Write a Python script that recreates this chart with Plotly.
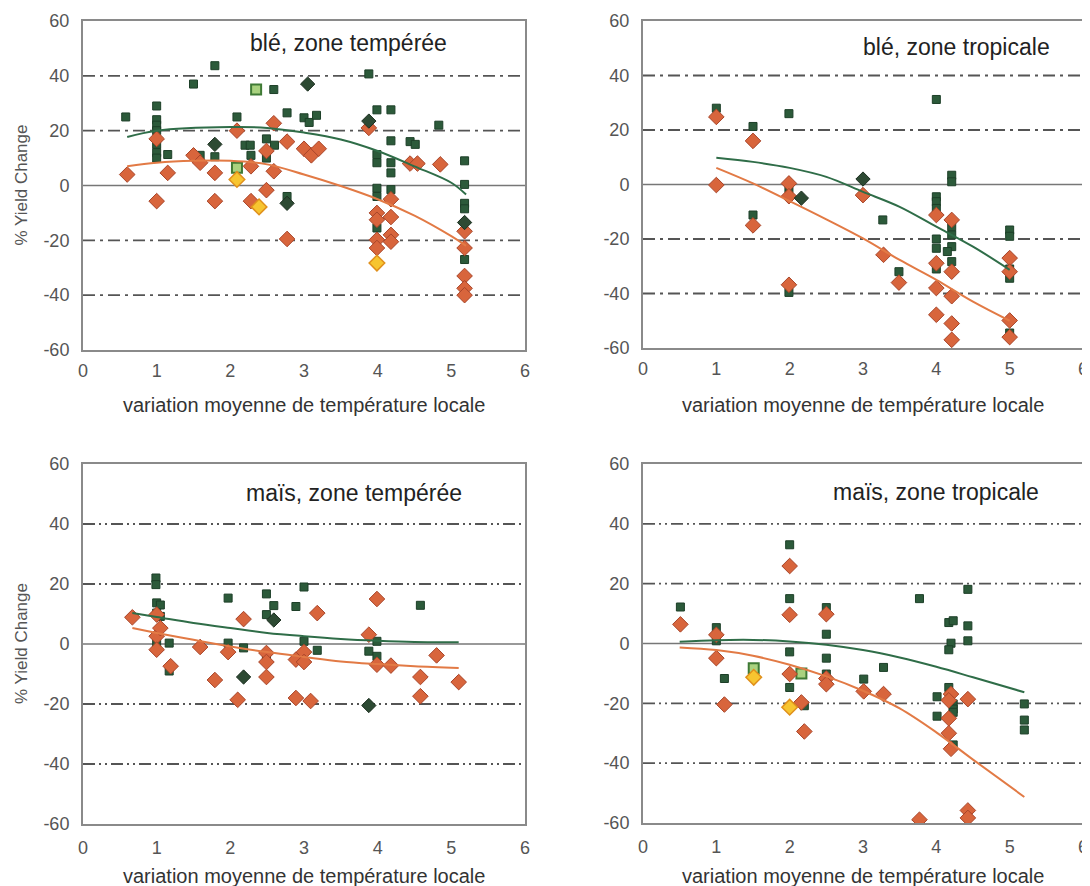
import plotly.graph_objects as go

# ---------------- data ----------------
# Panel 1: blé, zone tempérée
p1_sq_x = [0.58, 1.0, 1.0, 1.0, 1.0, 1.0, 1.0, 1.0, 1.15, 1.5, 1.59, 1.79, 1.79, 2.09, 2.59, 2.2, 2.27, 2.28,
           2.49, 2.49, 2.6, 2.77, 2.77, 3.0, 3.07, 3.17, 3.88, 3.99, 4.18, 3.99, 3.99, 3.99, 3.99, 3.99,
           4.18, 4.18, 4.18, 4.18, 4.44, 4.51, 4.83, 5.18, 5.18, 5.18, 5.18, 5.18]
p1_sq_y = [25, 29, 24, 22, 20, 15, 12, 10, 11.3, 37, 11, 43.7, 10.5, 25, 35, 14.7, 14.7, 11,
           17, 10, 14.7, 26.5, -4, 24.7, 23, 25.6, 40.7, 27.6, 27.6, 11.3, 8.3, -1, -4, -15.5,
           16.3, 8.3, 4.6, -1.5, 16, 15, 22, 9, 0.4, -6.5, -8.5, -27]
p1_di_x = [0.6, 1.0, 1.0, 1.15, 1.5, 1.59, 1.79, 1.79, 2.09, 2.28, 2.28, 2.49, 2.49, 2.59, 2.59, 2.77,
           2.77, 3.0, 3.1, 3.2, 3.88, 3.99, 3.99, 3.99, 3.99, 4.18, 4.18, 4.18, 4.18, 4.44, 4.54, 4.85,
           5.18, 5.18, 5.18, 5.18, 5.18]
p1_di_y = [4, 17, -5.7, 4.6, 11, 8.3, 4.6, -5.7, 20, 7, -5.7, 12.6, -1.7, 22.7, 5.2, 16,
           -19.5, 13.4, 11, 13.4, 21, -10, -12.5, -19.8, -22.8, -5, -11.5, -18, -20.5, 8, 8, 7.7,
           -16.7, -22.8, -33, -37.5, -40]
p1_dk_x = [1.79, 2.77, 3.05, 3.88, 5.18]
p1_dk_y = [15, -6.5, 37, 23.5, -13.5]
p1_ye_x = [2.09, 2.39, 3.99]
p1_ye_y = [2.2, -7.8, -28.3]
p1_lg_x = [2.09, 2.35]
p1_lg_y = [6.5, 35]
p1_fg_x = [0.6, 1.0, 2.0, 2.5, 3.0, 3.5, 4.0, 4.5, 5.0, 5.2]
p1_fg_y = [17.7, 20, 21.3, 21, 19.3, 16.8, 12.6, 7, 1, -3.3]
p1_fo_x = [0.6, 1.0, 1.5, 2.0, 2.5, 3.0, 3.5, 4.0, 4.5, 5.0, 5.2]
p1_fo_y = [7, 8.3, 9, 9, 7.7, 4, -0.2, -5, -11, -18.5, -22]

# Panel 2: blé, zone tropicale
p2_sq_x = [1.0, 1.5, 1.5, 1.99, 1.99, 1.99, 3.27, 3.49, 4.0, 4.0, 4.0, 4.0, 4.0, 4.0, 4.0,
           4.21, 4.21, 4.21, 4.21, 4.21, 4.21, 4.15, 5.0, 5.0, 5.0, 5.0, 5.0]
p2_sq_y = [28, 21.3, -11.2, 26, -1.5, -39.6, -13, -32, 31.2, -4.5, -6.3, -8.8, -20, -23.4, -31,
           3.4, 1, -15.5, -18.5, -22.8, -28.3, -24.6, -16.7, -19, -31, -34.4, -54.5]
p2_di_x = [1.0, 1.0, 1.5, 1.5, 1.99, 1.99, 1.99, 3.0, 3.28, 3.49, 4.0, 4.0, 4.0, 4.0,
           4.21, 4.21, 4.21, 4.21, 4.21, 5.0, 5.0, 5.0, 5.0]
p2_di_y = [24.8, -0.2, 16, -15, 0.4, -4.3, -36.8, -3.9, -25.8, -36, -11.2, -28.9, -38, -47.8,
           -13, -32, -41, -51, -57, -27, -32, -49.9, -56]
p2_dk_x = [2.16, 3.0]
p2_dk_y = [-5, 2]
p2_fg_x = [1.0, 1.5, 2.0, 2.5, 3.0, 3.5, 4.0, 4.5, 5.0]
p2_fg_y = [9.8, 8.3, 6.1, 2.8, -2.7, -8.2, -15.5, -22.8, -31.3]
p2_fo_x = [1.0, 1.5, 2.0, 2.5, 3.0, 3.5, 4.0, 4.5, 5.0]
p2_fo_y = [6.1, 0.4, -6.1, -12.8, -19.8, -27.7, -35, -43, -50]

# Panel 3: maïs, zone tempérée
p3_sq_x = [0.99, 0.99, 1.0, 1.05, 1.0, 1.05, 1.0, 1.17, 1.17, 1.97, 1.97, 2.18, 2.49, 2.49, 2.49,
           2.59, 2.89, 3.0, 3.0, 3.18, 3.88, 3.99, 3.99, 4.58]
p3_sq_y = [22, 19.8, 13.7, 13, 10.3, 9.2, 0.3, 0.3, -9, 15.3, 0.3, -1.3, 16.7, 9.8, -5.2,
           12.8, 12.5, 19, 0.9, -2.1, -2.4, 0.9, -4.1, 12.9]
p3_di_x = [0.67, 1.0, 1.0, 1.0, 1.05, 1.19, 1.59, 1.79, 1.97, 2.1, 2.18, 2.49, 2.49, 2.49, 2.89,
           2.89, 3.0, 3.0, 3.09, 3.18, 3.88, 3.99, 3.99, 4.18, 4.58, 4.58, 4.8, 5.1]
p3_di_y = [8.9, 9.8, 2.6, -1.9, 5.3, -7.4, -1, -12, -2.7, -18.6, 8.3, -3, -6, -11, -5.2,
           -18, -2.7, -6, -19, 10.3, 3.1, 15, -6.9, -7.2, -11, -17.4, -3.8, -12.7]
p3_dk_x = [2.18, 2.59, 3.88]
p3_dk_y = [-11, 8, -20.5]
p3_fg_x = [0.67, 1.0, 1.5, 2.0, 2.5, 3.0, 3.5, 4.0, 4.5, 5.1]
p3_fg_y = [10.3, 9, 7, 5.3, 3.7, 2.6, 1.7, 1.1, 0.7, 0.6]
p3_fo_x = [0.67, 1.0, 1.5, 2.0, 2.5, 3.0, 3.5, 4.0, 4.5, 5.1]
p3_fo_y = [5.3, 3.7, 1.4, -0.8, -2.7, -4.3, -5.8, -6.7, -7.4, -8]

# Panel 4: maïs, zone tropicale
p4_sq_x = [0.51, 1.0, 1.0, 1.11, 2.0, 2.0, 2.0, 2.0, 2.2, 2.5, 2.5, 2.5, 2.5, 3.01, 3.28, 3.77,
           4.01, 4.01, 4.17, 4.23, 4.2, 4.17, 4.17, 4.23, 4.23, 4.23, 4.23, 4.43, 4.43, 4.43,
           5.2, 5.2, 5.2]
p4_sq_y = [12.2, 5.3, 0.9, -11.7, 33, 15, -2.8, -14.7, -20.8, 12, 3.1, -4.9, -10.2, -11.9, -8, 15,
           -17.8, -24.3, 7, 7.6, 0.1, -2.1, -14.7, -20.2, -21.9, -23, -33.9, 18.1, 5.9, 0.9,
           -20.2, -25.6, -28.9]
p4_di_x = [0.51, 1.0, 1.0, 1.11, 2.0, 2.0, 2.0, 2.16, 2.2, 2.5, 2.5, 2.5, 3.01, 3.28, 3.77,
           4.2, 4.17, 4.17, 4.17, 4.2, 4.43, 4.43, 4.43]
p4_di_y = [6.4, 2.9, -4.9, -20.4, 25.9, 9.6, -10.2, -19.7, -29.4, 9.8, -11.7, -13.6, -16, -16.9, -58.9,
           -16.9, -19, -25, -30, -35.2, -18.6, -55.8, -58.3]
p4_ye_x = [1.51, 2.0]
p4_ye_y = [-11.3, -21.3]
p4_lg_x = [1.51, 2.16]
p4_lg_y = [-8.3, -10]
p4_fg_x = [0.5, 1.0, 1.5, 2.0, 2.5, 3.0, 3.5, 4.0, 4.5, 5.2]
p4_fg_y = [0.6, 1.1, 1.2, 0.7, -0.4, -2.2, -4.7, -7.8, -11.3, -16.3]
p4_fo_x = [0.5, 1.0, 1.5, 2.0, 2.5, 3.0, 3.5, 4.0, 4.5, 5.2]
p4_fo_y = [-1.3, -2.2, -4.1, -7.1, -11, -15.8, -21.7, -29.7, -38.8, -51.3]

titles = ["blé, zone tempérée", "blé, zone tropicale", "maïs, zone tempérée", "maïs, zone tropicale"]
x_title = "variation moyenne de température locale"
y_title = "% Yield Change"
y_ticks = [-60, -40, -20, 0, 20, 40, 60]
y_tick_text = ["-60", "-40", "-20", "0", "20", "40", "60"]
x_ticks = [0, 1, 2, 3, 4, 5, 6]

# ---------------- style ----------------
OFF = 8                      # page body margin of the browser
W, H = 1090 - OFF, 886 - OFF
GREEN = "#2c5a3a"
GREEN_EDGE = "#1d3f28"
ORANGE = "#d8653c"
ORANGE_EDGE = "#a8452a"
YELLOW = "#f7c530"
YELLOW_EDGE = "#e0901c"
LGREEN = "#a9d27f"
LGREEN_EDGE = "#3f7a35"
LINE_G = "#2f6d48"
LINE_O = "#e27a45"
FONT = "Liberation Sans, Arial, sans-serif"


def px(v):
    return (v - OFF) / W


def py(v):
    return 1 - (v - OFF) / H


# screen pixel boxes (left, right, top, bottom)
boxes = [(83, 525, 21, 350), (643, 1083, 21, 348), (83, 525, 464, 824), (643, 1083, 464, 823)]
title_pos = [(3.6, 52), (4.27, 50.5), (3.68, 50.3), (4.0, 50.7)]
xtitle_py = [405, 405, 876, 876]
xtick_len = [3, 3, 6, 6]
grid_dash = ["12px,5px,3px,5px", "12px,5px,3px,5px", "12px,4px,2px,4px,2px,4px", "12px,4px,2px,4px,2px,4px"]

panels = [
    dict(sq=(p1_sq_x, p1_sq_y), di=(p1_di_x, p1_di_y), dk=(p1_dk_x, p1_dk_y), ye=(p1_ye_x, p1_ye_y),
         lg=(p1_lg_x, p1_lg_y), fg=(p1_fg_x, p1_fg_y), fo=(p1_fo_x, p1_fo_y)),
    dict(sq=(p2_sq_x, p2_sq_y), di=(p2_di_x, p2_di_y), dk=(p2_dk_x, p2_dk_y), ye=None, lg=None,
         fg=(p2_fg_x, p2_fg_y), fo=(p2_fo_x, p2_fo_y)),
    dict(sq=(p3_sq_x, p3_sq_y), di=(p3_di_x, p3_di_y), dk=(p3_dk_x, p3_dk_y), ye=None, lg=None,
         fg=(p3_fg_x, p3_fg_y), fo=(p3_fo_x, p3_fo_y)),
    dict(sq=(p4_sq_x, p4_sq_y), di=(p4_di_x, p4_di_y), dk=None, ye=(p4_ye_x, p4_ye_y),
         lg=(p4_lg_x, p4_lg_y), fg=(p4_fg_x, p4_fg_y), fo=(p4_fo_x, p4_fo_y)),
]

fig = go.Figure()
layout = dict(width=W, height=H, margin=dict(l=0, r=0, t=0, b=0, pad=0, autoexpand=False), showlegend=False,
              paper_bgcolor="white", plot_bgcolor="white", font=dict(family=FONT, color="#555"))
shapes = []
annotations = []

for i, (p, box) in enumerate(zip(panels, boxes)):
    n = i + 1
    xa = "x" if n == 1 else f"x{n}"
    ya = "y" if n == 1 else f"y{n}"
    l, r, t, b = box
    layout[f"xaxis{'' if n == 1 else n}"] = dict(
        domain=[px(l), px(r)], anchor=ya, range=[0, 6], tickvals=x_ticks, showgrid=False,
        zeroline=False, showline=True, mirror=True, linecolor="#8a8a8a", linewidth=2,
        ticks="outside", ticklen=xtick_len[i], tickcolor="rgba(0,0,0,0)", automargin=False,
        ticklabeloverflow="allow",
        tickfont=dict(size=18, color="#555", family=FONT))
    layout[f"yaxis{'' if n == 1 else n}"] = dict(
        domain=[py(b), py(t)], anchor=xa, range=[-60, 60], tickvals=y_ticks, ticktext=y_tick_text,
        showgrid=False, zeroline=False, showline=True, mirror=True, linecolor="#8a8a8a", linewidth=2,
        ticks="outside", ticklen=8, tickcolor="rgba(0,0,0,0)", automargin=False,
        ticklabeloverflow="allow",
        tickfont=dict(size=18, color="#555", family=FONT))

    # grid lines
    for gv in [-40, -20, 20, 40]:
        shapes.append(dict(type="line", xref=f"{xa} domain", yref=ya, x0=0, x1=1, y0=gv, y1=gv,
                           line=dict(color="#555", width=1.8, dash=grid_dash[i]), layer="below"))
    shapes.append(dict(type="line", xref=f"{xa} domain", yref=ya, x0=0, x1=1, y0=0, y1=0,
                       line=dict(color="#777", width=1.3), layer="below"))

    annotations.append(dict(text=titles[i], x=title_pos[i][0], y=title_pos[i][1], xref=xa, yref=ya,
                            showarrow=False, xanchor="center", yanchor="middle",
                            font=dict(size=23, color="#222", family=FONT)))
    annotations.append(dict(text=x_title, x=px((l + r) / 2), y=py(xtitle_py[i]), xref="paper",
                            yref="paper", showarrow=False, xanchor="center", yanchor="middle",
                            font=dict(size=20, color="#333", family=FONT)))
    if n in (1, 3):
        annotations.append(dict(text=y_title, x=px(21), y=py((t + b) / 2), xref="paper",
                                yref="paper", showarrow=False, textangle=-90, xanchor="center",
                                yanchor="middle",
                                font=dict(size=17, color="#555", family=FONT)))

    fig.add_trace(go.Scatter(x=p["sq"][0], y=p["sq"][1], mode="markers", xaxis=xa, yaxis=ya,
                             marker=dict(symbol="square", size=8, color=GREEN,
                                         line=dict(color=GREEN_EDGE, width=1))))
    if p["lg"]:
        fig.add_trace(go.Scatter(x=p["lg"][0], y=p["lg"][1], mode="markers", xaxis=xa, yaxis=ya,
                                 marker=dict(symbol="square", size=10, color=LGREEN,
                                             line=dict(color=LGREEN_EDGE, width=2))))
    fig.add_trace(go.Scatter(x=p["di"][0], y=p["di"][1], mode="markers", xaxis=xa, yaxis=ya,
                             marker=dict(symbol="diamond", size=12, color=ORANGE,
                                         line=dict(color=ORANGE_EDGE, width=1))))
    if p["dk"]:
        fig.add_trace(go.Scatter(x=p["dk"][0], y=p["dk"][1], mode="markers", xaxis=xa, yaxis=ya,
                                 marker=dict(symbol="diamond", size=11, color="#2d4a33",
                                             line=dict(color="#1c2f20", width=1))))
    if p["ye"]:
        fig.add_trace(go.Scatter(x=p["ye"][0], y=p["ye"][1], mode="markers", xaxis=xa, yaxis=ya,
                                 marker=dict(symbol="diamond", size=12, color=YELLOW,
                                             line=dict(color=YELLOW_EDGE, width=1.5))))
    fig.add_trace(go.Scatter(x=p["fg"][0], y=p["fg"][1], mode="lines", xaxis=xa, yaxis=ya,
                             line=dict(color=LINE_G, width=2, shape="spline")))
    fig.add_trace(go.Scatter(x=p["fo"][0], y=p["fo"][1], mode="lines", xaxis=xa, yaxis=ya,
                             line=dict(color=LINE_O, width=2, shape="spline")))

layout["shapes"] = shapes
layout["annotations"] = annotations
fig.update_layout(**layout)
fig.write_html("out.html")
